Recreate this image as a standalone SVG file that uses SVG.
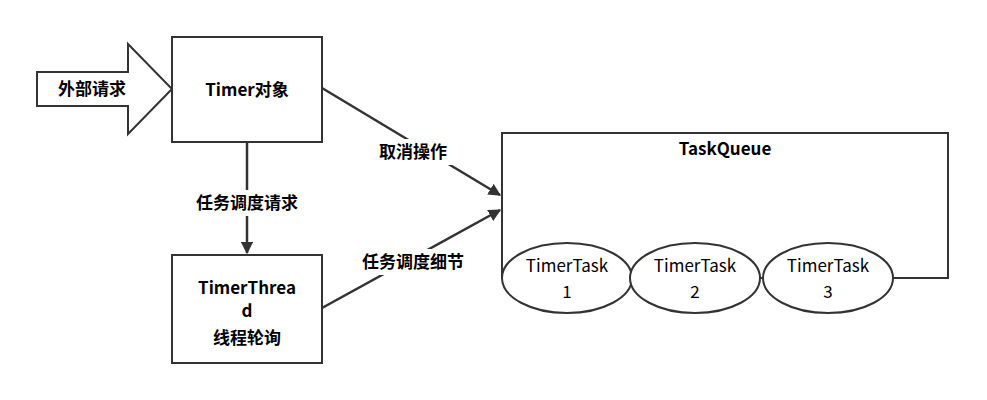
<svg xmlns="http://www.w3.org/2000/svg" width="987" height="400" viewBox="0 0 987 400">
<style>
.s{fill:#fff;stroke:#333;stroke-width:2}
.t{font-family:"Noto Sans CJK SC","Noto Sans",sans-serif;font-size:17px;fill:#000;text-anchor:middle}
.b{font-weight:bold}
.c{stroke:#333;stroke-width:2.5;fill:none}
.lb{fill:#fff}
</style>
<defs><marker id="a" viewBox="0 0 10 10" refX="9" refY="5" markerWidth="5" markerHeight="5" orient="auto"><path d="M0,0L10,5L0,10z" fill="#333"/></marker></defs>
<rect width="987" height="400" fill="#fff"/>
<g id="ext"><path class="s" d="M37,72H128V44L172,89L128,134V106H37Z"/><text class="t b" x="92" y="95">外部请求</text></g>
<g id="timer"><rect class="s" x="172" y="37" width="150" height="105"/><text class="t b" x="247" y="96">Timer对象</text></g>
<g id="thread"><rect class="s" x="172" y="255" width="150" height="108"/><text class="t b" x="247" y="294">TimerThrea</text><text class="t b" x="247" y="317">d</text><text class="t b" x="247" y="344">线程轮询</text></g>
<g id="queue"><rect class="s" x="502" y="133" width="446" height="145"/><text class="t b" x="725" y="155">TaskQueue</text></g>
<g id="task1"><ellipse class="s" cx="567" cy="278" rx="65" ry="35"/><text class="t" x="567" y="272">TimerTask</text><text class="t" x="567" y="298">1</text></g>
<g id="task2"><ellipse class="s" cx="695" cy="278" rx="65" ry="35"/><text class="t" x="695" y="272">TimerTask</text><text class="t" x="695" y="298">2</text></g>
<g id="task3"><ellipse class="s" cx="828" cy="278" rx="65" ry="35"/><text class="t" x="828" y="272">TimerTask</text><text class="t" x="828" y="298">3</text></g>
<g id="connectors">
<path class="c" d="M247,142V253" marker-end="url(#a)"/>
<path class="c" d="M322,88L500,195" marker-end="url(#a)"/>
<path class="c" d="M322,308L500,210" marker-end="url(#a)"/>
<rect class="lb" x="188" y="190" width="118" height="26"/><text class="t b" x="247" y="209">任务调度请求</text>
<rect class="lb" x="372" y="139" width="82" height="26"/><text class="t b" x="413" y="158">取消操作</text>
<rect class="lb" x="354" y="249" width="118" height="26"/><text class="t b" x="413" y="268">任务调度细节</text>
</g>
</svg>
